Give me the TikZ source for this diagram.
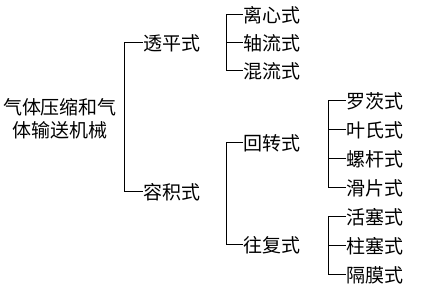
\documentclass[tikz,border=0pt]{standalone}
\usepackage{fontspec}
\newfontfamily\cjk{Noto Sans CJK SC}
\usepackage{tikz}
\usetikzlibrary{positioning}

\begin{document}
\begin{tikzpicture}[
  x=1pt, y=-1pt,
  item/.style={anchor=west, inner sep=0pt, font=\cjk\fontsize{19}{23}\selectfont},
  root/.style={item, anchor=center, align=center},
  brace/.style={line width=1pt},
]
  \useasboundingbox (0,0) rectangle (421,291);

  % root and first level
  \node[root] (gas) at (60,119) {气体压缩和气\\体输送机械};
  \node[item] (tp) at (143,43) {透平式};
  \node[item] (rj) at (143,192) {容积式};

  % turbo type
  \node[item] (lx) at (243,15) {离心式};
  \node[item] (zl) at (243,43) {轴流式};
  \node[item] (hl) at (243,71) {混流式};

  % positive displacement
  \node[item] (hz) at (243,143) {回转式};
  \node[item] (wf) at (243,245) {往复式};

  \node[item] (lc) at (346,101) {罗茨式};
  \node[item] (ys) at (346,130) {叶氏式};
  \node[item] (lg) at (346,159) {螺杆式};
  \node[item] (hp) at (346,188) {滑片式};

  \node[item] (hs) at (346,217) {活塞式};
  \node[item] (zs) at (346,246) {柱塞式};
  \node[item] (gm) at (346,275) {隔膜式};

  % brackets
  \draw[brace] (tp.west) -- ++(-19,0) |- (rj.west);

  \draw[brace] (lx.west) -- ++(-17,0) |- (hl.west);
  \draw[brace] (zl.west) -- ++(-17,0);

  \draw[brace] (hz.west) -- ++(-17,0) |- (wf.west);

  \draw[brace] (lc.west) -- ++(-18,0) |- (hp.west);
  \foreach \k in {ys, lg}
    \draw[brace] (\k.west) -- ++(-18,0);

  \draw[brace] (hs.west) -- ++(-18,0) |- (gm.west);
  \draw[brace] (zs.west) -- ++(-18,0);

\end{tikzpicture}
\end{document}
